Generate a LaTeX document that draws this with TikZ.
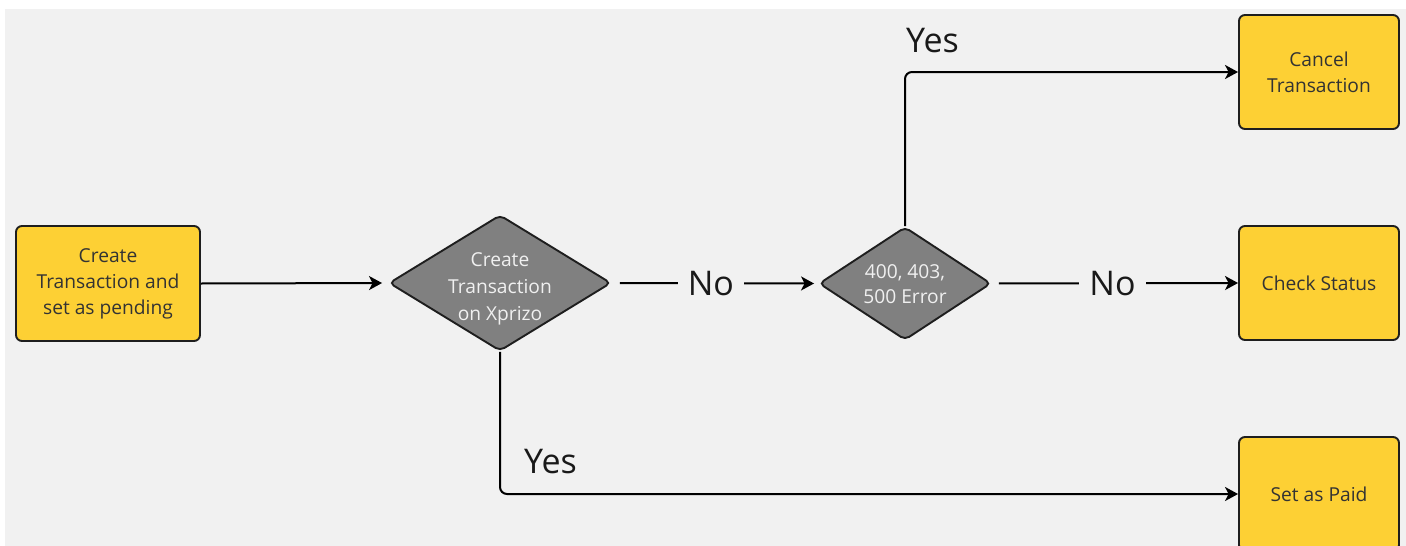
\documentclass[tikz,border=0pt]{standalone}
\usepackage{fontspec}
\setmainfont{Open Sans}
\usetikzlibrary{shapes.geometric,arrows.meta}
\definecolor{bg}{HTML}{F1F1F1}
\definecolor{boxyellow}{HTML}{FDD034}
\definecolor{decgray}{HTML}{808080}
\definecolor{edgecol}{HTML}{1E1E1E}
\begin{document}
\begin{tikzpicture}[x=1pt,y=-1pt,
  box/.style={draw=edgecol, line width=1.9pt, fill=boxyellow, rounded corners=6pt, inner sep=0pt, align=center, text=black!80, font=\fontsize{19.2}{26}\selectfont},
  dec/.style={shape=diamond, draw=edgecol, line width=1.9pt, fill=decgray, rounded corners=5pt, inner sep=0pt},
  dectext/.style={align=center, text=white!94!black, font=\fontsize{19.2}{27}\selectfont},
  conn/.style={draw=black, line width=2pt},
  arr/.style={conn, -{Stealth[length=13pt,width=14pt,inset=3.5pt]}},
  lbl/.style={font=\fontsize{34}{40}\selectfont, text=black!90, fill=bg, inner xsep=10pt, inner ysep=4pt},
  ylbl/.style={font=\fontsize{34}{40}\selectfont, text=black!90, inner sep=0pt, anchor=base west},
]
\useasboundingbox (0,0) rectangle (1406,546);
\fill[white] (0,0) rectangle (1406,546);
\fill[bg] (5,9) rectangle (1406,546);

% nodes
\node[box, minimum width=184pt, minimum height=115pt] (start) at (108,283.5) {Create\\Transaction and\\set as pending};
\node[dec, minimum width=222pt, minimum height=136pt] (d1) at (500,283) {};
\node[dectext] (d1t) at (500,289) {Create\\Transaction\\on Xprizo};
\node[dec, minimum width=172pt, minimum height=113pt] (d2) at (905,283.5) {};
\node[dectext, font=\fontsize{19.2}{25.5}\selectfont] (d2t) at (905,284) {400, 403,\\500 Error};
\node[box, minimum width=160pt, minimum height=114pt] (cancel) at (1319,72) {Cancel\\Transaction};
\node[box, minimum width=160pt, minimum height=114pt] (check) at (1319,283) {Check Status};
\node[box, minimum width=160pt, minimum height=114pt] (paid) at (1319,494) {Set as Paid};

% connectors
\draw[arr, shorten >=6pt] (start.east) -- (d1.west);
\draw[arr, shorten <=8pt, shorten >=4pt] (d1.east) -- node[lbl, pos=0.48] (no1) {No} (d2.west);
\draw[arr, shorten <=7pt] (d2.east) -- node[lbl, pos=0.49] (no2) {No} (check.west);
\draw[arr, rounded corners=7pt] (d2.north) |- (cancel.west);
\draw[arr, rounded corners=7pt] (d1.south) |- (paid.west);

% labels
\node[ylbl] (yes1) at (906,52) {Yes};
\node[ylbl] (yes2) at (524,473) {Yes};
\end{tikzpicture}
\end{document}
